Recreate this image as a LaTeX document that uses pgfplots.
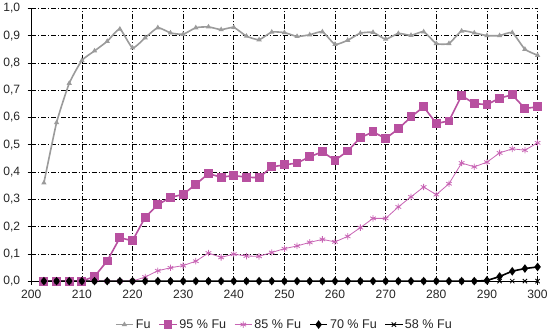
\documentclass[border=0pt]{standalone}
\usepackage{fontspec}
\setmainfont{Liberation Sans}
\usepackage{pgfplots}
\pgfplotsset{compat=1.18}
\definecolor{fugray}{RGB}{155,155,155}
\definecolor{mag}{RGB}{184,80,160}
\definecolor{magl}{RGB}{200,100,180}
\begin{document}
\begin{tikzpicture}
\begin{axis}[
  scale only axis,
  width=503pt, height=271pt,
  xmin=200, xmax=300, ymin=0, ymax=1,
  xtick={200,210,...,300},
  ytick={0,0.1,...,1.0},
  axis x line=bottom, axis y line=left,
  axis line style={-, black, line width=0.8pt},
  tick align=outside, major tick length=3.5pt,
  tick style={black, line width=0.6pt},
  grid=major,
  major grid style={black, line width=0.6pt, dash pattern=on 5pt off 2pt on 1pt off 2pt},
  /pgf/number format/assume math mode=true,
  yticklabel style={xshift=-4pt, /pgf/number format/.cd, use comma, fixed, fixed zerofill, precision=1},
  xticklabel style={yshift=-2pt, /pgf/number format/1000 sep={}},
  ticklabel style={font=\fontsize{12}{14}\selectfont, text=black!85},
  legend style={at={(0.5,-0.125)}, anchor=north, draw=none, legend columns=-1,
    font=\fontsize{12.5}{14}\selectfont, text=black!85,
    /tikz/every even column/.append style={column sep=6pt}},
  clip=false,
]
\addplot[fugray, line width=1.6pt, smooth, tension=0.3, mark=triangle*, mark size=1.5pt, mark options={solid}] coordinates {
(202.5,0.36)(205,0.581)(207.5,0.725)(210,0.809)(212.5,0.844)(215,0.879)(217.5,0.924)(220,0.855)(222.5,0.892)(225,0.929)(227.5,0.91)(230,0.905)
(232.5,0.929)(235,0.932)(237.5,0.922)(240,0.93)(242.5,0.898)(245,0.885)(247.5,0.913)(250,0.911)(252.5,0.897)(255,0.903)(257.5,0.914)(260,0.868)(262.5,0.883)(265,0.909)(267.5,0.912)
(270,0.887)(272.5,0.908)(275,0.901)(277.5,0.914)(280,0.871)(282.5,0.871)(285,0.917)(287.5,0.91)(290,0.9)(292.5,0.9)(295,0.911)(297.5,0.85)(300,0.828)};
\addlegendentry{Fu}
\addplot[mag, line width=1.6pt, mark=square*, mark size=3.6pt, mark options={solid, fill=mag}] coordinates {
(202.5,0)(205,0)(207.5,0)(210,0)(212.5,0.017)(215,0.074)(217.5,0.159)(220,0.148)(222.5,0.234)(225,0.28)(227.5,0.307)(230,0.318)
(232.5,0.355)(235,0.394)(237.5,0.381)(240,0.387)(242.5,0.381)(245,0.379)(247.5,0.419)(250,0.426)(252.5,0.433)(255,0.456)(257.5,0.474)(260,0.443)(262.5,0.477)(265,0.526)(267.5,0.547)
(270,0.523)(272.5,0.558)(275,0.602)(277.5,0.639)(280,0.578)(282.5,0.587)(285,0.68)(287.5,0.651)(290,0.647)(292.5,0.671)(295,0.683)(297.5,0.633)(300,0.639)};
\addlegendentry{95 \% Fu}
\addplot[magl, line width=0.8pt, mark=asterisk, mark size=3.2pt, mark options={solid}] coordinates {
(202.5,0)(205,0)(207.5,0)(210,0)(212.5,0)(215,0)(217.5,0)(220,0)(222.5,0.015)(225,0.038)(227.5,0.049)(230,0.057)
(232.5,0.073)(235,0.103)(237.5,0.087)(240,0.099)(242.5,0.092)(245,0.091)(247.5,0.105)(250,0.119)(252.5,0.129)(255,0.142)(257.5,0.153)(260,0.144)(262.5,0.164)(265,0.196)(267.5,0.23)
(270,0.23)(272.5,0.272)(275,0.309)(277.5,0.345)(280,0.317)(282.5,0.357)(285,0.433)(287.5,0.419)(290,0.436)(292.5,0.47)(295,0.485)(297.5,0.48)(300,0.507)};
\addlegendentry{85 \% Fu}
\addplot[black, line width=1.6pt, smooth, tension=0.3, mark=diamond*, mark size=3pt, mark options={solid}] coordinates {
(202.5,0)(205,0)(207.5,0)(210,0)(212.5,0)(215,0)(217.5,0)(220,0)(222.5,0)(225,0)(227.5,0)(230,0)
(232.5,0)(235,0)(237.5,0)(240,0)(242.5,0)(245,0)(247.5,0)(250,0)(252.5,0)(255,0)(257.5,0)(260,0)(262.5,0)(265,0)(267.5,0)
(270,0)(272.5,0)(275,0)(277.5,0)(280,0)(282.5,0)(285,0)(287.5,0)(290,0.003)(292.5,0.017)(295,0.036)(297.5,0.046)(300,0.052)};
\addlegendentry{70 \% Fu}
\addplot[black, line width=0.8pt, mark=x, mark size=3pt, mark options={solid}] coordinates {
(202.5,0)(205,0)(207.5,0)(210,0)(212.5,0)(215,0)(217.5,0)(220,0)(222.5,0)(225,0)(227.5,0)(230,0)
(232.5,0)(235,0)(237.5,0)(240,0)(242.5,0)(245,0)(247.5,0)(250,0)(252.5,0)(255,0)(257.5,0)(260,0)(262.5,0)(265,0)(267.5,0)
(270,0)(272.5,0)(275,0)(277.5,0)(280,0)(282.5,0)(285,0)(287.5,0)(290,0)(292.5,0)(295,0)(297.5,0)(300,0)};
\addlegendentry{58 \% Fu}
\end{axis}
\end{tikzpicture}
\end{document}
